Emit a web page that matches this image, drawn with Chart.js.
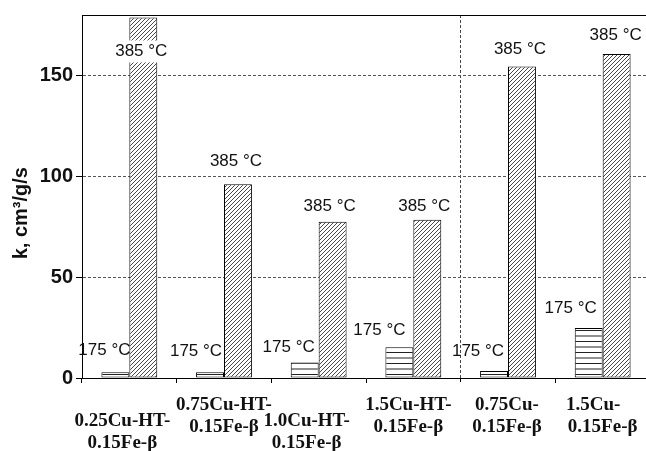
<!DOCTYPE html>
<html>
<head>
<meta charset="utf-8">
<script src="https://cdn.jsdelivr.net/npm/chart.js@4/dist/chart.umd.min.js"></script>
<style>
  html, body { margin: 0; padding: 0; background: #fff; overflow: hidden; }
  canvas { display: block; }
</style>
</head>
<body>
<canvas id="c" width="660" height="451"></canvas>
<script>
// Catalysts (two-line category names)
const catalysts = [
  ['0.25Cu-HT-', '0.15Fe-β'],
  ['0.75Cu-HT-', '0.15Fe-β'],
  ['1.0Cu-HT-', '0.15Fe-β'],
  ['1.5Cu-HT-', '0.15Fe-β'],
  ['0.75Cu-', '0.15Fe-β'],
  ['1.5Cu-    ', '0.15Fe-β']
];
// Rate constants k, cm3/g/s
const k175 = [2.8, 2.8, 7.7, 15.2, 3.5, 24.8];
const k385 = [178.8, 96.1, 77.5, 78.5, 154.5, 160.7];
const seriesNames = ['175 °C', '385 °C'];
const yTicks = [0, 50, 100, 150];
const yMax = 180;

// Placement of the temperature tags relative to their bars (px)
const tagShift175 = [-11, -14, -16, -20, -16, -18];
const tagLift175 = [22, 21, 15, 17, 20, 20];
const tagShift385 = [-2, -2, -3, -3, -2, -1];
const tagLift385 = [-34, 23, 15, 13, 17, 19];
// Category name placement
const catShift = [-7, 0, -12, -5, -1, 0];
const catDrop = [16, 0, 16, 0, 0, 0];

const canvas = document.getElementById('c');
const ctx = canvas.getContext('2d');

function diagonalHatch() {
  const s = 4;
  const t = document.createElement('canvas');
  t.width = s; t.height = s;
  const g = t.getContext('2d');
  g.fillStyle = '#fff';
  g.fillRect(0, 0, s, s);
  g.strokeStyle = '#333';
  g.lineWidth = 0.9;
  g.beginPath();
  g.moveTo(0, s); g.lineTo(s, 0);
  g.moveTo(-1, 1); g.lineTo(1, -1);
  g.moveTo(s - 1, s + 1); g.lineTo(s + 1, s - 1);
  g.stroke();
  return ctx.createPattern(t, 'repeat');
}

function horizontalHatch() {
  const t = document.createElement('canvas');
  t.width = 4; t.height = 11;
  const g = t.getContext('2d');
  g.fillStyle = '#fff';
  g.fillRect(0, 0, 4, 11);
  g.fillStyle = '#222';
  g.fillRect(0, 0, 4, 1);
  g.fillRect(0, 5.5, 4, 1);
  return ctx.createPattern(t, 'repeat');
}

const tags = {
  id: 'tempTags',
  afterDatasetsDraw(chart) {
    const c = chart.ctx;
    c.save();
    c.font = '17px "Liberation Sans", Arial, sans-serif';
    c.textAlign = 'center';
    c.textBaseline = 'middle';
    chart.data.datasets.forEach((ds, di) => {
      const shift = di === 0 ? tagShift175 : tagShift385;
      const lift = di === 0 ? tagLift175 : tagLift385;
      chart.getDatasetMeta(di).data.forEach((bar, i) => {
        const x = bar.x + shift[i];
        const y = bar.y - lift[i];
        const text = seriesNames[di];
        if (lift[i] < 0) {
          const w = c.measureText(text).width;
          c.fillStyle = '#fff';
          c.fillRect(x - w / 2 - 1, y - 11, w + 2, 22);
        }
        c.fillStyle = '#111';
        c.fillText(text, x, y);
      });
    });
    c.restore();
  }
};

const catNames = {
  id: 'catNames',
  afterDraw(chart) {
    const c = chart.ctx;
    const xs = chart.scales.x;
    c.save();
    c.font = 'bold 19px "Liberation Serif", "Times New Roman", serif';
    c.textAlign = 'center';
    c.textBaseline = 'middle';
    c.fillStyle = '#111';
    catalysts.forEach((lines, i) => {
      const x = xs.getPixelForValue(i) + catShift[i];
      lines.forEach((line, k) => {
        c.fillText(line, x, xs.top + 27 + catDrop[i] + k * 22);
      });
    });
    c.restore();
  }
};

const frame = {
  id: 'frame',
  afterDatasetsDraw(chart) {
    const a = chart.chartArea;
    const c = chart.ctx;
    c.save();
    c.strokeStyle = '#000';
    c.lineWidth = 1;
    c.beginPath();
    c.moveTo(a.left, a.top + 0.5);
    c.lineTo(a.right, a.top + 0.5);
    c.moveTo(a.right - 0.5, a.top);
    c.lineTo(a.right - 0.5, a.bottom);
    c.stroke();
    c.restore();
  }
};

new Chart(ctx, {
  type: 'bar',
  data: {
    labels: catalysts,
    datasets: [
      {
        label: seriesNames[0],
        data: k175,
        backgroundColor: horizontalHatch(),
        borderColor: '#000',
        borderWidth: 1,
        borderSkipped: false
      },
      {
        label: seriesNames[1],
        data: k385,
        backgroundColor: diagonalHatch(),
        borderColor: '#000',
        borderWidth: 1,
        borderSkipped: false
      }
    ]
  },
  options: {
    responsive: false,
    animation: false,
    events: [],
    layout: { padding: { top: 13, right: 10, left: 0, bottom: 0 } },
    datasets: { bar: { categoryPercentage: 0.59, barPercentage: 1.0 } },
    plugins: {
      legend: { display: false },
      tooltip: { enabled: false }
    },
    scales: {
      x: {
        afterFit: s => { s.height = 73; },
        ticks: { display: false },
        grid: {
          offset: true,
          drawOnChartArea: true,
          color: c => (c.index === 4 ? '#444' : 'rgba(0,0,0,0)'),
          lineWidth: 1,
          tickLength: 5,
          tickColor: '#000',
          tickBorderDash: c => (c.index === 4 ? [3, 2] : [])
        },
        border: { display: true, color: '#000', width: 1, dash: [3, 2] }
      },
      y: {
        min: 0,
        max: yMax,
        afterFit: s => { s.width = 82; },
        afterBuildTicks: s => { s.ticks = yTicks.map(v => ({ value: v })); },
        ticks: {
          padding: 3,
          color: '#111',
          font: { family: '"Liberation Sans", Arial, sans-serif', size: 20, weight: 'bold' }
        },
        grid: {
          color: c => (c.tick && c.tick.value === 0 ? 'rgba(0,0,0,0)' : '#555'),
          lineWidth: 1,
          tickLength: 6,
          tickColor: '#000'
        },
        border: { display: true, color: '#000', width: 1, dash: [3, 2] },
        title: {
          display: true,
          text: 'k, cm³/g/s      ',
          color: '#111',
          padding: { top: 9, bottom: 0 },
          font: { family: '"Liberation Sans", Arial, sans-serif', size: 20, weight: 'bold' }
        }
      }
    }
  },
  plugins: [tags, catNames, frame]
});
</script>
</body>
</html>
